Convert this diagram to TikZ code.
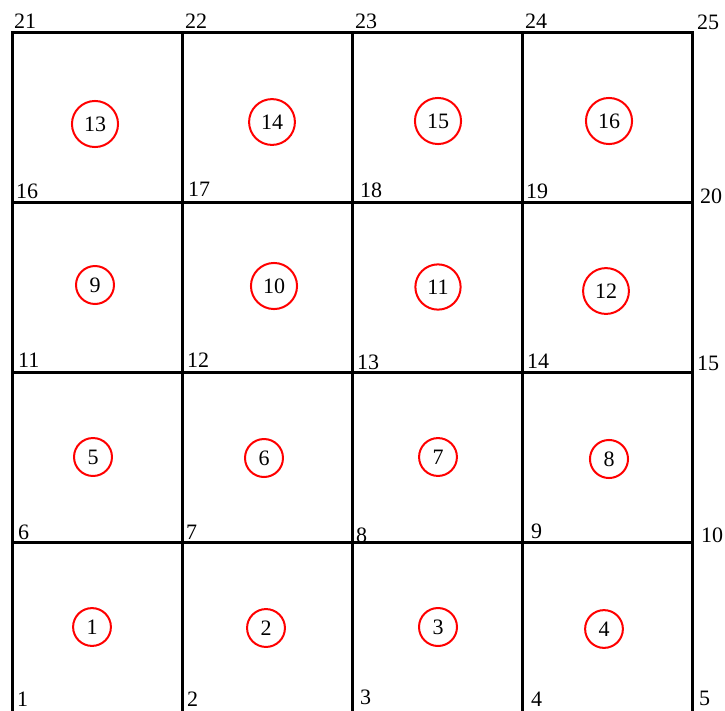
\documentclass[tikz,border=0pt]{standalone}
\usepackage{fontspec}
\setmainfont{Liberation Serif}
\begin{document}
\begin{tikzpicture}[x=1pt,y=-1pt]
\tikzset{
  gridline/.style={line width=3pt, black, line cap=rect},
  elem/.style={circle, draw=red, line width=2pt, inner sep=7pt, font=\fontsize{22}{26}\selectfont},
  nlabel/.style={anchor=base west, inner sep=0pt, font=\fontsize{22}{26}\selectfont},
}
\useasboundingbox (0,0) rectangle (725,710);
% grid points
\foreach \i in {0,...,4}{
  \foreach \j in {0,...,4}{
    \pgfmathtruncatemacro{\k}{5*\j+\i+1}
    \coordinate (p\k) at ({12+170*\i},{712-170*\j});
  }
}
% horizontal lines
\foreach \j in {0,...,4}{
  \pgfmathtruncatemacro{\a}{5*\j+1}
  \pgfmathtruncatemacro{\b}{5*\j+5}
  \draw[gridline] (p\a) -- (p\b);
}
% vertical lines
\foreach \i in {1,...,5}{
  \pgfmathtruncatemacro{\b}{\i+20}
  \draw[gridline] (p\i) -- (p\b);
}
% element circles
\foreach \n/\x/\y in {1/92/627, 2/266/628, 3/438/627, 4/604/629,
                      5/93/457, 6/264/458, 7/438/457, 8/609/459,
                      9/95/285, 10/274/286, 11/438/287, 12/606/291,
                      13/95/124, 14/272/122, 15/438/121, 16/609/121}{
  \node[elem] (e\n) at (\x,\y) {\n};
}
% node number labels
\foreach \n/\x/\y in {1/17/706, 2/187/706, 3/360/704, 4/531/706, 5/699/705,
                      6/18/539, 7/186/539, 8/356/542, 9/531/538, 10/701/542,
                      11/18/367, 12/187/367, 13/357/369, 14/527/368, 15/697/370,
                      16/16/198, 17/188/196, 18/360/197, 19/526/198, 20/700/203,
                      21/14/28, 22/185/28, 23/355/28, 24/525/28, 25/697/29}{
  \node[nlabel] (l\n) at (\x,\y) {\n};
}
\end{tikzpicture}
\end{document}
